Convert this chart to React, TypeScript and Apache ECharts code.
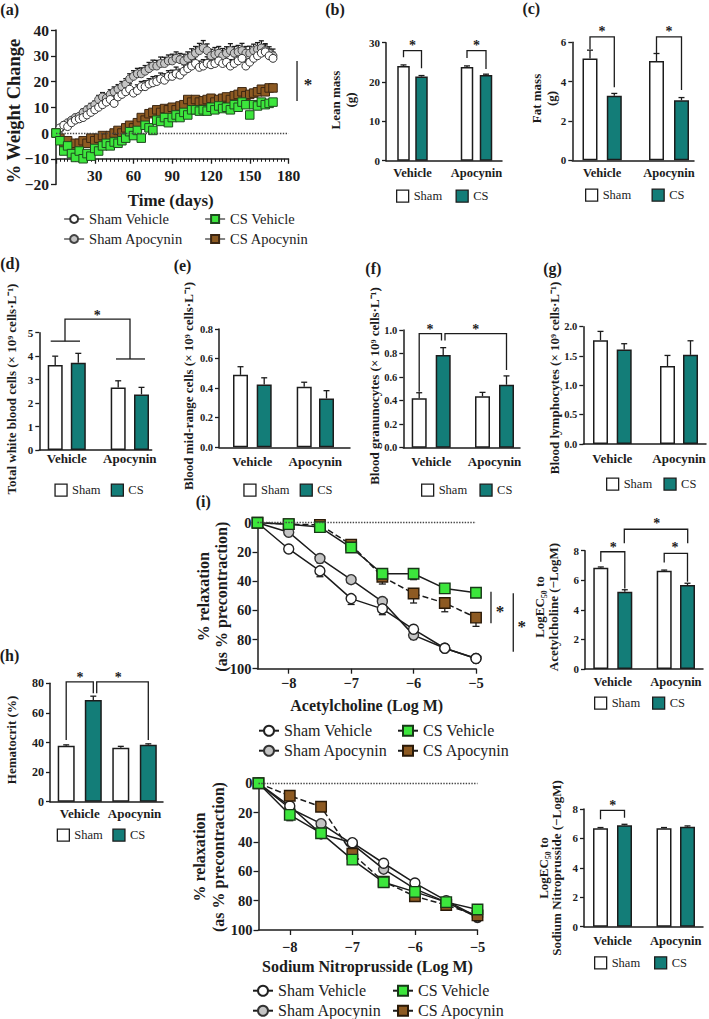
import React, { useEffect, useRef } from 'react';
import * as echarts from 'echarts';

const FONT = "'Liberation Serif', 'Times New Roman', Times, serif";
const INK = '#1c1c1c';
const TEAL = '#137d78';
const GREEN = '#3ce63c';
const BROWN = '#8d5a22';
const GREY = '#c4c4c4';

// ---------------- (a) body weight ----------------
const weightDays = [0, 3, 6, 9, 12, 15, 18, 21, 24, 27, 30, 33, 36, 39, 42, 45, 48, 51, 54, 57, 60, 63, 66, 69, 72, 75, 78, 81, 84, 87, 90, 93, 96, 99, 102, 105, 108, 111, 114, 117, 120, 123, 126, 129, 132, 135, 138, 141, 144, 147, 150, 153, 156, 159, 162, 165, 168];
const weightShamVehicle = [0, 2, 3, 2.5, 4, 5, 5.5, 6, 7, 8, 9, 10, 11, 12, 13, 11.5, 14, 15, 16, 17, 15.5, 16.5, 18, 18, 19, 19.5, 20, 21, 20.5, 22, 22, 23, 22.5, 24, 25, 26, 27, 25.5, 26, 27, 26.5, 27, 28, 27, 27.5, 26, 27, 28, 29, 26, 27.5, 29, 30, 31, 31.5, 30, 29];
const weightShamVehicleErr = [0, 0.6, 0.8, 0.9, 1, 1.1, 1.2, 1.2, 1.4, 1.3, 1.5, 1.6, 1.5, 1.7, 1.8, 1.6, 1.9, 2, 1.8, 2.1, 2, 2.2, 2, 2.3, 2.1, 2.4, 2.2, 2.3, 2.5, 2.2, 2.4, 2.6, 2.3, 2.5, 2.4, 2.6, 2.7, 2.4, 2.5, 2.6, 2.3, 2.7, 2.5, 2.6, 2.4, 2.5, 2.8, 2.6, 2.4, 2.7, 2.5, 2.6, 2.8, 2.5, 2.7, 2.6, 2.4];
const weightShamApocynin = [0, 1.5, 3, 4, 5, 6, 6.5, 8, 9, 10, 11, 13, 14, 13.5, 15, 16, 17, 18, 19, 21, 22, 23, 23, 24, 25, 26, 26, 27, 27, 28, 28, 29, 28.5, 28, 29, 30, 31, 32, 33, 32, 30, 30.5, 31, 30, 31, 32, 31, 31.5, 32, 31, 31, 32, 32.5, 33, 32, 31, 30];
const weightShamApocyninErr = [0, 0.5, 0.7, 0.9, 1, 1.2, 1.1, 1.3, 1.4, 1.5, 1.4, 1.6, 1.7, 1.6, 1.8, 1.9, 1.8, 2, 2.1, 2, 2.2, 2.1, 2.3, 2.2, 2.4, 2.3, 2.2, 2.5, 2.4, 2.3, 2.6, 2.5, 2.4, 2.6, 2.5, 2.7, 2.6, 2.8, 2.9, 2.6, 2.5, 2.7, 2.6, 2.8, 2.5, 2.7, 2.6, 2.5, 2.8, 2.6, 2.7, 2.5, 2.6, 2.8, 2.7, 2.5, 2.6];
const weightCSVehicle = [0, -3, -7, -5, -8, -9.5, -7, -10, -8, -9, -6, -7, -5, -4, -5, -3.5, -4, -3, -2, 0.5, -1, 1, -2, 3, 2, 1, 5, 4.5, 6, 4, 6, 7, 6, 8, 7, 9, 9, 8.5, 9, 8.5, 10, 9, 10.5, 9.5, 10, 9, 11, 10, 12, 11, 7, 11, 10.5, 12, 11, 11.5, 12];
const weightCSApocynin = [0, -2, -4, -3, -5, -4, -4, -3, -4, -2, -3, -2, -1, -2, -1, 0, 1, 0, 2, 3, 2, 4, 6, 5, 7.5, 8, 9, 8, 9.5, 9, 10, 9, 10.5, 11, 13, 12, 13, 12, 12.5, 13, 13.5, 12, 13, 13.5, 14, 13, 14.5, 15, 16, 14.5, 15, 15.5, 16, 17, 16, 17.5, 17.5];

// ---------------- (i) concentration-response ----------------
const logDose = [-8.5, -8, -7.5, -7, -6.5, -6, -5.5, -5];
const doseTicks = [-8, -7, -6, -5];
const achShamVehicle = [0, 18, 33, 52, 59, 73, 86, 93];
const achShamVehicleErr = [0, 1, 4, 4, 4, 3, 1, 1];
const achShamApocynin = [0, 6.5, 24.5, 39, 54, 77, 86, 93];
const achShamApocyninErr = [0, 1, 3, 1, 1, 3, 1, 1];
const achCSVehicle = [0, 1, 3, 17, 35, 35, 45, 48];
const achCSVehicleErr = [0, 1, 1, 2, 2, 4, 3, 3];
const achCSApocynin = [0, 1, 1.5, 15, 37, 48.5, 55, 65];
const achCSApocyninErr = [0, 1, 1, 4, 5, 6.5, 6, 6];
const snpShamVehicle = [0, 15.5, 34.5, 40.5, 54.5, 68, 80, 91];
const snpShamVehicleErr = [0, 1, 1, 1, 1, 1, 1, 1];
const snpShamApocynin = [0, 17, 27.5, 41.5, 58.5, 72, 81, 91.5];
const snpShamApocyninErr = [0, 1, 1, 2, 1, 1, 1, 1];
const snpCSVehicle = [0, 21.5, 34, 52, 67.5, 74, 81, 86];
const snpCSVehicleErr = [0, 4, 2, 2, 1, 1, 1, 1];
const snpCSApocynin = [0, 8.5, 16, 48, 67, 77, 83, 90];
const snpCSApocyninErr = [0, 1, 2, 2, 1, 1, 1, 1];

// ---------------- bar panels: [Vehicle, Apocynin] ----------------
const groups = ['Vehicle', 'Apocynin'];
const leanSham = [24.1, 23.8];
const leanShamErr = [0.25, 0.3];
const leanCS = [21.4, 21.8];
const leanCSErr = [0.25, 0.2];
const fatSham = [5.17, 5.05];
const fatShamErr = [0.43, 0.38];
const fatCS = [3.28, 3.05];
const fatCSErr = [0.12, 0.14];
const wbcSham = [3.62, 2.66];
const wbcShamErr = [0.38, 0.29];
const wbcCS = [3.72, 2.37];
const wbcCSErr = [0.4, 0.3];
const midSham = [0.49, 0.41];
const midShamErr = [0.055, 0.03];
const midCS = [0.425, 0.33];
const midCSErr = [0.045, 0.053];
const granSham = [0.42, 0.437];
const granShamErr = [0.047, 0.033];
const granCS = [0.787, 0.535];
const granCSErr = [0.063, 0.075];
const lymphSham = [1.77, 1.33];
const lymphShamErr = [0.15, 0.18];
const lymphCS = [1.61, 1.52];
const lymphCSErr = [0.1, 0.24];
const hctSham = [37.8, 36.4];
const hctShamErr = [0.6, 1.0];
const hctCS = [68.8, 38.5];
const hctCSErr = [2.5, 0.6];
const ec50AchSham = [6.85, 6.65];
const ec50AchShamErr = [0.05, 0.04];
const ec50AchCS = [5.23, 5.68];
const ec50AchCSErr = [0.13, 0.12];
const ec50SnpSham = [6.69, 6.7];
const ec50SnpShamErr = [0.05, 0.04];
const ec50SnpCS = [6.9, 6.8];
const ec50SnpCSErr = [0.06, 0.05];

type Pt = [number, number];
interface BarPanel {
  key: string;
  axisX: number; axisEnd: number; top: number; bottom: number;
  max: number; interval: number; decimals: number;
  barW: number; centers: number[];
  sham: number[]; shamErr: number[]; cs: number[]; csErr: number[];
  tickSize: number; catSize: number; catMargin: number;
  legendY: number; legendSham: number; legendCS: number;
  lines: Pt[][]; stars: Pt[];
}

const barPanels: BarPanel[] = [
  { key: 'b', axisX: 386, axisEnd: 502, top: 42.7, bottom: 160.7, max: 30, interval: 10, decimals: 0,
    barW: 12.5, centers: [403.5, 421.5, 467, 486], sham: leanSham, shamErr: leanShamErr, cs: leanCS, csErr: leanCSErr,
    tickSize: 11, catSize: 12.5, catMargin: 6, legendY: 196, legendSham: 402, legendCS: 461.5,
    lines: [[[403.5, 26.3], [403.5, 28], [421.5, 28], [421.5, 23.5]], [[467, 26.1], [467, 28], [486, 28], [486, 23.3]]],
    stars: [[412.5, 30], [476.5, 30]] },
  { key: 'c', axisX: 572.3, axisEnd: 694, top: 42.3, bottom: 160.3, max: 6, interval: 2, decimals: 0,
    barW: 15, centers: [590, 614.3, 656.5, 681.5], sham: fatSham, shamErr: fatShamErr, cs: fatCS, csErr: fatCSErr,
    tickSize: 11, catSize: 12.5, catMargin: 6, legendY: 195, legendSham: 591, legendCS: 657.5,
    lines: [[[590, 5.65], [590, 6.28], [614.3, 6.28], [614.3, 3.72]], [[656.5, 5.45], [656.5, 6.28], [681.5, 6.28], [681.5, 3.57]]],
    stars: [[602, 6.71], [669, 6.71]] },
  { key: 'd', axisX: 39.3, axisEnd: 151.7, top: 332.7, bottom: 450, max: 5, interval: 1, decimals: 0,
    barW: 15, centers: [55.2, 78.3, 118.2, 141.5], sham: wbcSham, shamErr: wbcShamErr, cs: wbcCS, csErr: wbcCSErr,
    tickSize: 11, catSize: 13, catMargin: 2, legendY: 490, legendSham: 60.4, legendCS: 116.7,
    lines: [[[50.7, 4.64], [80, 4.64]], [[116, 3.88], [145, 3.88]], [[65, 4.64], [65, 5.58], [130, 5.58], [130, 3.88]]],
    stars: [[97.3, 5.85]] },
  { key: 'e', axisX: 219, axisEnd: 350, top: 329, bottom: 447.3, max: 0.8, interval: 0.2, decimals: 1,
    barW: 15, centers: [240.5, 264.2, 304.2, 326.5], sham: midSham, shamErr: midShamErr, cs: midCS, csErr: midCSErr,
    tickSize: 10.5, catSize: 13, catMargin: 8, legendY: 490, legendSham: 249.3, legendCS: 305.6,
    lines: [], stars: [] },
  { key: 'f', axisX: 403.3, axisEnd: 520, top: 330, bottom: 447.7, max: 1, interval: 0.2, decimals: 1,
    barW: 15, centers: [419.2, 443.2, 482.5, 506.5], sham: granSham, shamErr: granShamErr, cs: granCS, csErr: granCSErr,
    tickSize: 10.5, catSize: 13, catMargin: 7.5, legendY: 490, legendSham: 427, legendCS: 485.4,
    lines: [[[419.2, 0.476], [419.2, 0.97], [441.5, 0.97], [441.5, 0.91]], [[445, 0.91], [445, 0.97], [506.5, 0.97], [506.5, 0.66]]],
    stars: [[430, 1.034], [475.7, 1.034]] },
  { key: 'g', axisX: 583.3, axisEnd: 706, top: 326.7, bottom: 444, max: 2, interval: 0.5, decimals: 1,
    barW: 15, centers: [600.5, 624.2, 667.5, 690.5], sham: lymphSham, shamErr: lymphShamErr, cs: lymphCS, csErr: lymphCSErr,
    tickSize: 10.5, catSize: 13, catMargin: 8, legendY: 484, legendSham: 612, legendCS: 669.4,
    lines: [], stars: [] },
  { key: 'h', axisX: 50, axisEnd: 163, top: 683.3, bottom: 801.7, max: 80, interval: 20, decimals: 0,
    barW: 17, centers: [66.2, 93.3, 120.8, 148.3], sham: hctSham, shamErr: hctShamErr, cs: hctCS, csErr: hctCSErr,
    tickSize: 12, catSize: 13, catMargin: 5, legendY: 835, legendSham: 62.7, legendCS: 118.3,
    lines: [[[66.2, 41.7], [66.2, 81], [93.3, 81], [93.3, 73.2]], [[96.7, 73.2], [96.7, 81], [148.3, 81], [148.3, 41.7]]],
    stars: [[80, 86.3], [118.3, 86.3]] },
  { key: 'iA', axisX: 585, axisEnd: 703, top: 550.7, bottom: 669, max: 8, interval: 2, decimals: 0,
    barW: 15, centers: [600.8, 624.8, 664.2, 687.5], sham: ec50AchSham, shamErr: ec50AchShamErr, cs: ec50AchCS, csErr: ec50AchCSErr,
    tickSize: 11, catSize: 12.5, catMargin: 6, legendY: 703, legendSham: 600, legendCS: 658,
    lines: [[[600.8, 7.25], [600.8, 7.93], [624.8, 7.93], [624.8, 5.45]], [[664.2, 7.2], [664.2, 7.82], [687.5, 7.82], [687.5, 5.9]], [[624.3, 8.5], [624.3, 9.45], [687.7, 9.45], [687.7, 8.5]]],
    stars: [[613.3, 8.43], [675, 8.43], [656.7, 10.03]] },
  { key: 'iS', axisX: 584, axisEnd: 703, top: 809, bottom: 926.7, max: 8, interval: 2, decimals: 0,
    barW: 15, centers: [600.5, 624.5, 664, 687.5], sham: ec50SnpSham, shamErr: ec50SnpShamErr, cs: ec50SnpCS, csErr: ec50SnpCSErr,
    tickSize: 11, catSize: 12.5, catMargin: 8, legendY: 962.7, legendSham: 600, legendCS: 660,
    lines: [[[600.5, 7.3], [600.5, 7.9], [624.5, 7.9], [624.5, 7.4]]],
    stars: [[612.7, 8.43]] },
];

const strip = (n: string) => n.split('#')[0];
const minus = (v: number | string) => String(v).replace('-', '\u2212');
const AXIS_LINE = { show: true, onZero: false, lineStyle: { color: INK, width: 1.5 } };
const tickFont = (size: number) => ({ fontFamily: FONT, fontWeight: 'bold', fontSize: size, color: INK });

function annotSeries(gi: number, lines: Pt[][], stars: Pt[], xShift: number, starSize: number, anchor: Pt) {
  return {
    type: 'custom', xAxisIndex: gi, yAxisIndex: gi, silent: true, z: 6, clip: false,
    itemStyle: { color: INK },
    data: [anchor],
    renderItem: (_p: any, api: any) => {
      const children: any[] = [];
      lines.forEach((l) => {
        children.push({
          type: 'polyline',
          shape: { points: l.map((p) => api.coord([p[0] - xShift, p[1]])) },
          style: { stroke: INK, lineWidth: 1.3, fill: null },
        });
      });
      stars.forEach((s) => {
        const c = api.coord([s[0] - xShift, s[1]]);
        children.push({
          type: 'text', x: c[0], y: c[1] + starSize * 0.22,
          style: { text: '*', fill: INK, fontFamily: FONT, fontWeight: 'bold', fontSize: starSize, align: 'center', verticalAlign: 'middle' },
        });
      });
      return { type: 'group', children };
    },
  };
}

function errSeries(gi: number, items: number[][], cap: number, z: number) {
  return {
    type: 'custom', xAxisIndex: gi, yAxisIndex: gi, silent: true, z, clip: false,
    itemStyle: { color: INK },
    data: items,
    renderItem: (_p: any, api: any) => {
      const a = api.coord([api.value(0), api.value(1)]);
      const b = api.coord([api.value(0), api.value(2)]);
      return {
        type: 'group',
        children: [
          { type: 'line', shape: { x1: a[0], y1: a[1], x2: b[0], y2: b[1] }, style: { stroke: INK, lineWidth: 1.3 } },
          { type: 'line', shape: { x1: b[0] - cap, y1: b[1], x2: b[0] + cap, y2: b[1] }, style: { stroke: INK, lineWidth: 1.3 } },
        ],
      };
    },
  };
}

function txt(text: string, x: number, y: number, size: number, rot = false, lh?: number, bold = true) {
  return {
    type: 'text', x, y, rotation: rot ? Math.PI / 2 : 0, silent: true,
    style: {
      text, fill: INK, fontFamily: FONT, fontSize: size, fontWeight: bold ? 'bold' : 'normal',
      align: 'center', verticalAlign: 'middle', lineHeight: lh || Math.round(size * 1.15),
    },
  };
}

function buildOption() {
  const grid: any[] = [];
  const xAxis: any[] = [];
  const yAxis: any[] = [];
  const series: any[] = [];
  const legend: any[] = [];

  const lineLegend = (left: number, top: number, names: string[], size: number, itemH: number, lh: number, gap: number, forceLine: boolean) => ({
    orient: 'vertical', left, top, padding: 0, itemGap: gap, itemWidth: 20, itemHeight: itemH,
    selectedMode: false, formatter: strip, data: names,
    textStyle: { fontFamily: FONT, fontSize: size, color: INK, lineHeight: lh },
    ...(forceLine ? { lineStyle: { color: '#333', width: 1.2, opacity: 1, type: 'solid' } } : {}),
  });

  // ---------- (a) ----------
  grid.push({ left: 56, top: 30, width: 232.5, height: 154.5 });
  xAxis.push({
    gridIndex: 0, type: 'value', min: 0, max: 180, interval: 30, position: 'bottom', offset: -25.75,
    axisLine: AXIS_LINE, axisTick: { show: true, length: 5, lineStyle: { color: INK, width: 1.3 } },
    minorTick: { show: true, splitNumber: 10, length: 3, lineStyle: { color: INK, width: 1 } },
    splitLine: { show: false }, minorSplitLine: { show: false },
    axisLabel: { ...tickFont(15.5), margin: 9, showMinLabel: false },
  });
  yAxis.push({
    gridIndex: 0, type: 'value', min: -20, max: 40, interval: 10,
    axisLine: AXIS_LINE, axisTick: { show: true, length: 5, lineStyle: { color: INK, width: 1.3 } },
    splitLine: { show: false }, axisLabel: { ...tickFont(15.5), margin: 7, formatter: (v: number) => minus(v) },
  });
  const aDefs = [
    { name: 'Sham Apocynin#a', vals: weightShamApocynin, sym: 'circle', size: 8, color: GREY, border: '#444' },
    { name: 'Sham Vehicle#a', vals: weightShamVehicle, sym: 'circle', size: 8, color: '#ffffff', border: '#333' },
    { name: 'CS Apocynin#a', vals: weightCSApocynin, sym: 'rect', size: 8.5, color: BROWN, border: '#3b2612' },
    { name: 'CS Vehicle#a', vals: weightCSVehicle, sym: 'rect', size: 8.5, color: GREEN, border: '#1f4a1f' },
  ];
  series.push(errSeries(0, weightDays.map((d, i) => [d, weightShamApocynin[i], weightShamApocynin[i] + weightShamApocyninErr[i]]), 2.5, 1));
  series.push(errSeries(0, weightDays.map((d, i) => [d, weightShamVehicle[i], weightShamVehicle[i] + weightShamVehicleErr[i]]), 2.5, 1));
  aDefs.forEach((s, k) => {
    series.push({
      type: 'line', name: s.name, xAxisIndex: 0, yAxisIndex: 0, z: 2,
      data: weightDays.map((d, i) => [d, s.vals[i]]),
      symbol: s.sym, symbolSize: s.size, showSymbol: true,
      itemStyle: { color: s.color, borderColor: s.border, borderWidth: 1 },
      lineStyle: { width: 0, opacity: 0 },
      ...(k === 0 ? { markLine: { silent: true, symbol: ['none', 'none'], label: { show: false }, lineStyle: { type: 'dotted', color: '#444', width: 1.4 }, data: [{ yAxis: 0 }] } } : {}),
    });
  });
  series.push(annotSeries(0, [[[186.6, 27.96], [186.6, 12.4]]], [[195.1, 20.2]], 0, 17, [10, 0]));
  legend.push(lineLegend(63.5, 211.5, ['Sham Vehicle#a', 'Sham Apocynin#a'], 14.5, 10, 15, 5, true));
  legend.push(lineLegend(204.5, 211.5, ['CS Vehicle#a', 'CS Apocynin#a'], 14.5, 10, 15, 5, true));

  // ---------- (i) line plots ----------
  const linePanels = [
    { key: 'i1', grid: { left: 257.5, top: 522.7, width: 218.5, height: 146 }, labelMargin: 7,
      sv: achShamVehicle, sve: achShamVehicleErr, sa: achShamApocynin, sae: achShamApocyninErr,
      cv: achCSVehicle, cve: achCSVehicleErr, ca: achCSApocynin, cae: achCSApocyninErr,
      legendTop: 722.7, legendL: 258, legendR: 397,
      sig: [[[-4.76, 47.3], [-4.76, 68.9]], [[-4.403, 48.4], [-4.403, 88.4]]] as Pt[][],
      stars: [[-4.616, 58.4], [-4.268, 68.7]] as Pt[] },
    { key: 'i2', grid: { left: 258.5, top: 783.3, width: 219, height: 146.7 }, labelMargin: 9,
      sv: snpShamVehicle, sve: snpShamVehicleErr, sa: snpShamApocynin, sae: snpShamApocyninErr,
      cv: snpCSVehicle, cve: snpCSVehicleErr, ca: snpCSApocynin, cae: snpCSApocyninErr,
      legendTop: 982.7, legendL: 252, legendR: 392,
      sig: [] as Pt[][], stars: [] as Pt[] },
  ];
  linePanels.forEach((p) => {
    const gi = grid.length;
    grid.push(p.grid);
    xAxis.push({
      gridIndex: gi, type: 'value', min: -8.5, max: -5,
      axisLine: AXIS_LINE,
      axisTick: { show: true, length: 5, customValues: doseTicks, lineStyle: { color: INK, width: 1.3 } },
      splitLine: { show: false },
      axisLabel: { ...tickFont(14.5), margin: p.labelMargin, customValues: doseTicks, formatter: (v: number) => minus(v) },
    });
    yAxis.push({
      gridIndex: gi, type: 'value', min: 0, max: 100, interval: 20, inverse: true,
      axisLine: AXIS_LINE, axisTick: { show: true, length: 5, lineStyle: { color: INK, width: 1.3 } },
      splitLine: { show: false }, axisLabel: { ...tickFont(14.5), margin: 6 },
    });
    const defs = [
      { name: `Sham Apocynin#${p.key}`, vals: p.sa, err: p.sae, sym: 'circle', size: 10, color: GREY, border: '#333', dash: false },
      { name: `Sham Vehicle#${p.key}`, vals: p.sv, err: p.sve, sym: 'circle', size: 10, color: '#ffffff', border: '#222', dash: false },
      { name: `CS Apocynin#${p.key}`, vals: p.ca, err: p.cae, sym: 'rect', size: 10.5, color: BROWN, border: '#2a1a08', dash: true },
      { name: `CS Vehicle#${p.key}`, vals: p.cv, err: p.cve, sym: 'rect', size: 10.5, color: GREEN, border: '#183818', dash: false },
    ];
    defs.forEach((s) => {
      series.push(errSeries(gi, logDose.map((x, i) => [x, s.vals[i], s.vals[i] + s.err[i]]), 3.5, 1));
    });
    defs.forEach((s, k) => {
      series.push({
        type: 'line', name: s.name, xAxisIndex: gi, yAxisIndex: gi, z: 2 + k * 0.1,
        data: logDose.map((x, i) => [x, s.vals[i]]),
        symbol: s.sym, symbolSize: s.size, showSymbol: true,
        itemStyle: { color: s.color, borderColor: s.border, borderWidth: 1.4 },
        lineStyle: { color: INK, width: 1.5, type: s.dash ? 'dashed' : 'solid' },
        ...(k === 0 ? { markLine: { silent: true, symbol: ['none', 'none'], label: { show: false }, lineStyle: { type: 'dotted', color: '#444', width: 1.4 }, data: [{ yAxis: 0 }] } } : {}),
      });
    });
    if (p.sig.length) series.push(annotSeries(gi, p.sig, p.stars, 0, 17, [-6, 50]));
    legend.push(lineLegend(p.legendL, p.legendTop, [`Sham Vehicle#${p.key}`, `Sham Apocynin#${p.key}`], 16, 12.5, 16, 4, false));
    legend.push(lineLegend(p.legendR, p.legendTop, [`CS Vehicle#${p.key}`, `CS Apocynin#${p.key}`], 16, 12.5, 16, 4, false));
  });

  // ---------- bar panels ----------
  barPanels.forEach((p) => {
    const gi = grid.length;
    const w = p.axisEnd - p.axisX;
    const vehC = (p.centers[0] + p.centers[1]) / 2 - p.axisX;
    const apoC = (p.centers[2] + p.centers[3]) / 2 - p.axisX;
    grid.push({ left: p.axisX, top: p.top, width: w, height: p.bottom - p.top });
    xAxis.push({
      gridIndex: gi, type: 'value', min: 0, max: w,
      axisLine: AXIS_LINE, axisTick: { show: false }, splitLine: { show: false },
      axisLabel: {
        ...tickFont(p.catSize), margin: p.catMargin, customValues: [vehC, apoC],
        formatter: (v: number) => (Math.abs(v - vehC) < 0.5 ? groups[0] : groups[1]),
      },
    });
    yAxis.push({
      gridIndex: gi, type: 'value', min: 0, max: p.max, interval: p.interval,
      axisLine: AXIS_LINE, axisTick: { show: true, length: 4, lineStyle: { color: INK, width: 1.3 } },
      splitLine: { show: false },
      axisLabel: { ...tickFont(p.tickSize), margin: 6, formatter: (v: number) => v.toFixed(p.decimals) },
    });
    const xs = p.centers.map((c) => c - p.axisX);
    series.push({
      type: 'bar', name: `Sham#${p.key}`, xAxisIndex: gi, yAxisIndex: gi, barWidth: p.barW, barGap: '-100%', z: 2,
      data: [[xs[0], p.sham[0]], [xs[2], p.sham[1]]],
      itemStyle: { color: '#ffffff', borderColor: INK, borderWidth: 1.5 },
    });
    series.push({
      type: 'bar', name: `CS#${p.key}`, xAxisIndex: gi, yAxisIndex: gi, barWidth: p.barW, barGap: '-100%', z: 2,
      data: [[xs[1], p.cs[0]], [xs[3], p.cs[1]]],
      itemStyle: { color: TEAL, borderColor: INK, borderWidth: 1.5 },
    });
    series.push(errSeries(gi, [
      [xs[0], p.sham[0], p.sham[0] + p.shamErr[0]],
      [xs[1], p.cs[0], p.cs[0] + p.csErr[0]],
      [xs[2], p.sham[1], p.sham[1] + p.shamErr[1]],
      [xs[3], p.cs[1], p.cs[1] + p.csErr[1]],
    ], 3, 3));
    if (p.lines.length || p.stars.length) series.push(annotSeries(gi, p.lines, p.stars, p.axisX, 14, [1, 0]));
    const barLegend = (name: string, x: number, fill: string) => ({
      left: x - 6, top: p.legendY - 6.5, padding: 0, itemWidth: 12, itemHeight: 12, selectedMode: false,
      formatter: strip,
      data: [{ name, icon: 'rect', itemStyle: { color: fill, borderColor: INK, borderWidth: 1.3 } }],
      textStyle: { fontFamily: FONT, fontSize: 12.5, color: INK, lineHeight: 13 },
    });
    legend.push(barLegend(`Sham#${p.key}`, p.legendSham, '#ffffff'));
    legend.push(barLegend(`CS#${p.key}`, p.legendCS, TEAL));
  });

  const cellsUnit = ' (× 10⁹ cells·L⁻¹)';
  const graphic = [
    txt('(a)', 9.7, 9, 16), txt('(b)', 335, 9, 16), txt('(c)', 531.3, 8.5, 16),
    txt('(d)', 10, 263.3, 16), txt('(e)', 182.5, 265, 16), txt('(f)', 373.3, 268.3, 16),
    txt('(g)', 552.5, 268.3, 16), txt('(h)', 9.5, 655, 16), txt('(i)', 203.3, 501.7, 16),
    txt('% Weight Change', 14, 111, 18.5, true),
    txt('Time (days)', 170.7, 200, 17),
    txt('Lean mass\n(g)', 342.5, 100, 13, true, 15),
    txt('Fat mass\n(g)', 543.5, 98.5, 13, true, 15),
    txt('Total white blood cells' + cellsUnit, 11.7, 389, 13, true),
    txt('Blood mid-range cells' + cellsUnit, 188, 386, 13, true),
    txt('Blood granunocytes' + cellsUnit, 374, 386, 13, true),
    txt('Blood lymphocytes' + cellsUnit, 554, 378, 13, true),
    txt('Hematocrit (%)', 11.7, 740, 13, true),
    txt('% relaxation\n(as % precontraction)', 212, 596.7, 16, true, 18),
    txt('% relaxation\n(as % precontraction)', 209, 857, 16, true, 19),
    txt('LogEC₅₀ to\nAcetylcholine (−LogM)', 546, 607, 13, true, 14),
    txt('LogEC₅₀ to\nSodium Nitroprusside (−LogM)', 550, 868, 13, true, 13.5),
    txt('Acetylcholine (Log M)', 366.7, 705, 16),
    txt('Sodium Nitroprusside (Log M)', 367.5, 966.7, 16),
  ];

  return {
    animation: false,
    backgroundColor: '#ffffff',
    textStyle: { fontFamily: FONT },
    grid, xAxis, yAxis, series, legend, graphic,
  };
}

export default function App() {
  const ref = useRef<HTMLDivElement>(null);
  useEffect(() => {
    if (!ref.current) return;
    const chart = echarts.init(ref.current, undefined, { renderer: 'svg' });
    chart.setOption(buildOption() as any);
    return () => chart.dispose();
  }, []);
  return <div ref={ref} style={{ position: 'absolute', left: 0, top: 0, width: 709, height: 1019, background: '#fff' }} />;
}
